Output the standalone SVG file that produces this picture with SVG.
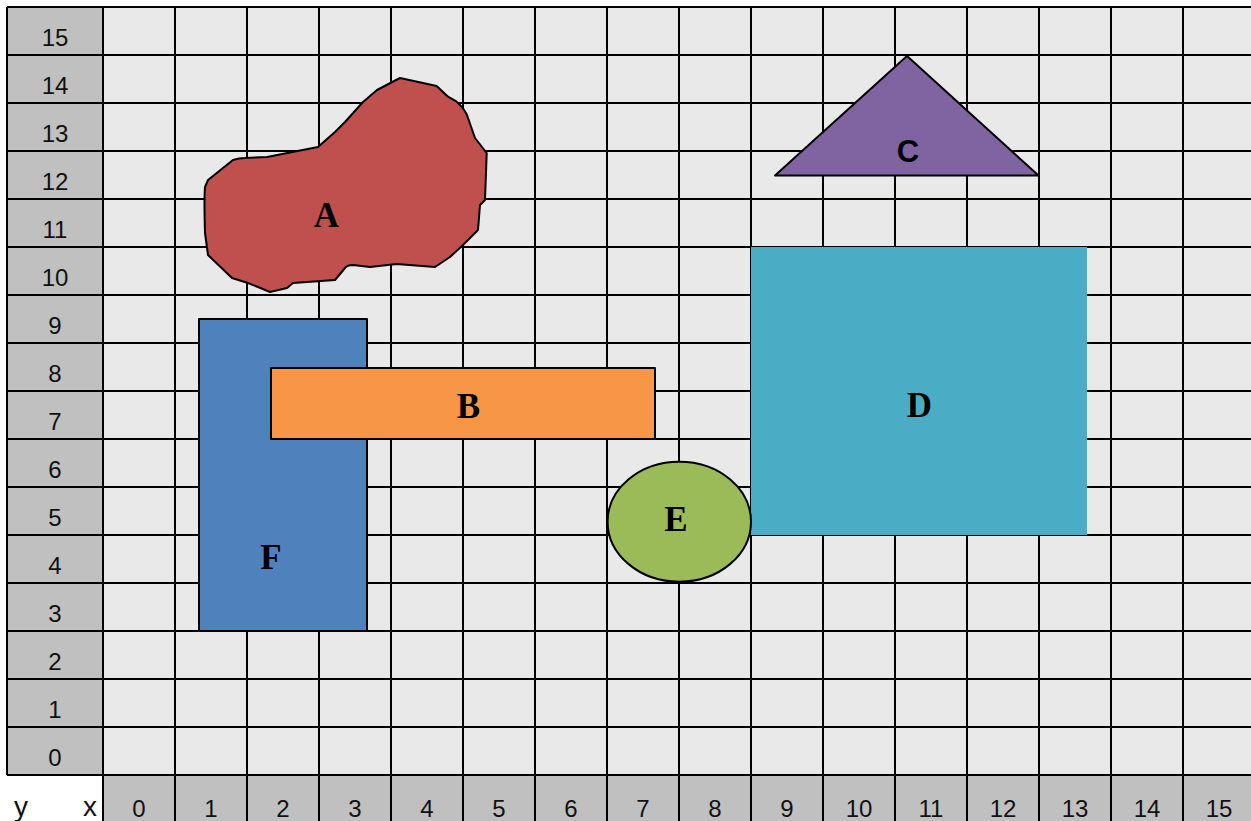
<svg xmlns="http://www.w3.org/2000/svg" width="1251" height="821" viewBox="0 0 1251 821">
<style>
.ax{font-family:"Liberation Sans",Arial,sans-serif;font-size:24px;fill:#111;text-anchor:middle}
.axl{font-family:"Liberation Sans",Arial,sans-serif;font-size:28px;fill:#111;text-anchor:middle}
.lbl{font-family:"Liberation Serif","DejaVu Serif",serif;font-weight:bold;font-size:35px;fill:#000;text-anchor:middle}
.lbls{font-family:"Liberation Sans",Arial,sans-serif;font-weight:bold;font-size:31px;fill:#000;text-anchor:middle}
.sh{stroke:#000;stroke-width:2;stroke-linejoin:round}
.gl{stroke:#000;stroke-width:2;fill:none}
</style>
<rect x="0" y="0" width="1251" height="821" fill="#ffffff"/>
<g id="grid">
<rect x="103" y="7" width="1148" height="768" fill="#e9e9e9"/>
<rect x="7" y="7" width="96" height="768" fill="#c0c0c0"/>
<rect x="103" y="775" width="1148" height="46" fill="#c0c0c0"/>
<path class="gl" d="M7 7H1251M7 55H1251M7 103H1251M7 151H1251M7 199H1251M7 247H1251M7 295H1251M7 343H1251M7 391H1251M7 439H1251M7 487H1251M7 535H1251M7 583H1251M7 631H1251M7 679H1251M7 727H1251M7 775H1251M7 7V775M103 7V821M175 7V821M247 7V821M319 7V821M391 7V821M463 7V821M535 7V821M607 7V821M679 7V821M751 7V821M823 7V821M895 7V821M967 7V821M1039 7V821M1111 7V821M1183 7V821"/>
<g class="ax">
<text x="55" y="45.5">15</text>
<text x="55" y="93.5">14</text>
<text x="55" y="141.5">13</text>
<text x="55" y="189.5">12</text>
<text x="55" y="237.5">11</text>
<text x="55" y="285.5">10</text>
<text x="55" y="333.5">9</text>
<text x="55" y="381.5">8</text>
<text x="55" y="429.5">7</text>
<text x="55" y="477.5">6</text>
<text x="55" y="525.5">5</text>
<text x="55" y="573.5">4</text>
<text x="55" y="621.5">3</text>
<text x="55" y="669.5">2</text>
<text x="55" y="717.5">1</text>
<text x="55" y="765.5">0</text>
<text x="139" y="817">0</text>
<text x="211" y="817">1</text>
<text x="283" y="817">2</text>
<text x="355" y="817">3</text>
<text x="427" y="817">4</text>
<text x="499" y="817">5</text>
<text x="571" y="817">6</text>
<text x="643" y="817">7</text>
<text x="715" y="817">8</text>
<text x="787" y="817">9</text>
<text x="859" y="817">10</text>
<text x="931" y="817">11</text>
<text x="1003" y="817">12</text>
<text x="1075" y="817">13</text>
<text x="1147" y="817">14</text>
<text x="1219" y="817">15</text>
</g>
<text class="axl" x="21" y="816">y</text>
<text class="axl" x="90" y="816">x</text>
</g>
<g id="connectors"></g>
<g id="node-A">
<path class="sh" fill="#c0504d" d="M400,78 L436.7,86 L448,96.7 L456.7,101.7 Q466,110 468,118 L475,138 L486.7,153 L485,200 L480,205 L478,230 L463,245 L450,257 L435,267 L396.7,264 L370,267 L353,265 Q347,265 345,268 L335,280 L293,283 L287,288 L270,292 L248,283 L232,278 L208,255 L205,233 Q204,200 205,187 L208,180 L233,160 Q239,158 245,158 L267,157 L318,147 L335,132 L345,122 L363,102 L377,90 Z"/>
<text class="lbl" x="326.5" y="226.5">A</text>
</g>
<g id="node-C">
<polygon class="sh" fill="#8064a2" points="775,175.5 907,56 1038.5,175.5"/>
<text class="lbls" x="908" y="161.5">C</text>
</g>
<g id="node-D">
<rect x="751" y="247" width="336" height="288" fill="#4bacc6"/>
<text class="lbl" x="919.5" y="416.5">D</text>
</g>
<g id="node-F">
<rect class="sh" x="199" y="319" width="168" height="312" fill="#4f81bd"/>
<text class="lbl" x="271" y="569">F</text>
</g>
<g id="node-B">
<rect class="sh" x="271" y="368" width="384" height="71" fill="#f79646"/>
<text class="lbl" x="468.5" y="417.5">B</text>
</g>
<g id="node-E">
<ellipse class="sh" cx="679.3" cy="521.7" rx="71.7" ry="60" fill="#9bbb59"/>
<text class="lbl" x="676" y="531">E</text>
</g>
</svg>
